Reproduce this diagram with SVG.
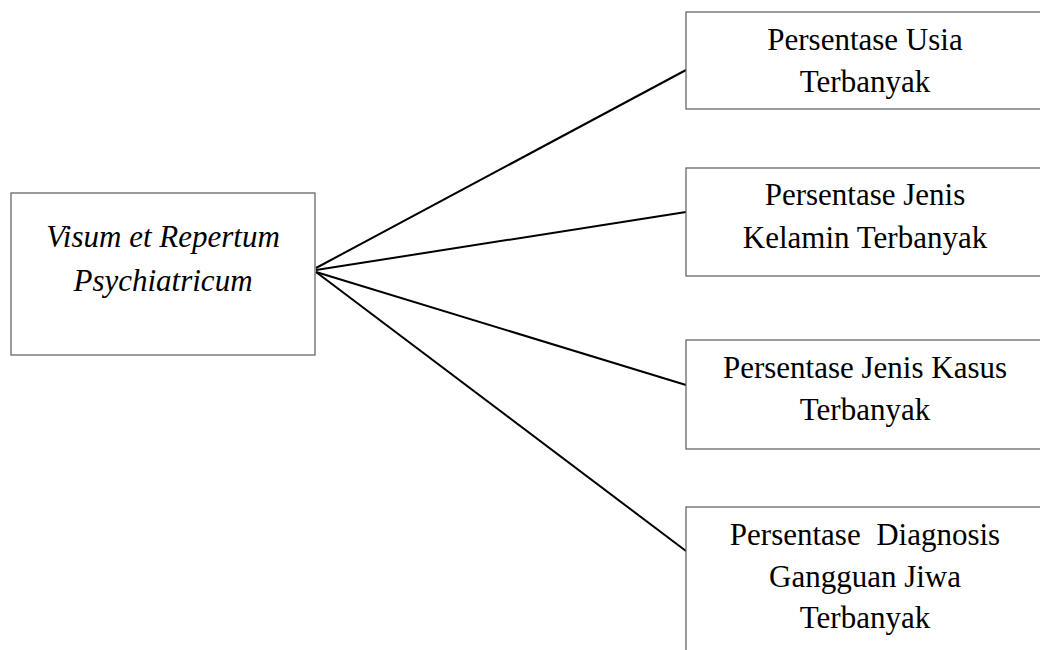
<svg xmlns="http://www.w3.org/2000/svg" width="1040" height="650" viewBox="0 0 1040 650">
<style>
.box{fill:#fff;stroke:#5a5a5a;stroke-width:1.2}
.t{font-family:"Liberation Serif","Times New Roman",serif;font-size:31px;fill:#000;text-anchor:middle}
.it{font-style:italic}
.c{stroke:#000;stroke-width:2;fill:none}
</style>
<rect width="1040" height="650" fill="#fff"/>
<g id="connectors">
<line class="c" x1="316" y1="268" x2="686" y2="70"/>
<line class="c" x1="316" y1="270" x2="686" y2="212"/>
<line class="c" x1="316" y1="272" x2="686" y2="385"/>
<line class="c" x1="316" y1="272" x2="686" y2="551"/>
</g>
<g id="vrp">
<rect class="box" x="11" y="193" width="304" height="162"/>
<text class="t it" x="163" y="247">Visum et Repertum</text>
<text class="t it" x="163" y="291">Psychiatricum</text>
</g>
<g id="usia">
<rect class="box" x="686" y="12" width="360" height="97"/>
<text class="t" x="865" y="50">Persentase Usia</text>
<text class="t" x="865" y="92">Terbanyak</text>
</g>
<g id="kelamin">
<rect class="box" x="686" y="168" width="360" height="108"/>
<text class="t" x="865" y="205">Persentase Jenis</text>
<text class="t" x="865" y="248">Kelamin Terbanyak</text>
</g>
<g id="kasus">
<rect class="box" x="686" y="340" width="360" height="109"/>
<text class="t" x="865" y="378">Persentase Jenis Kasus</text>
<text class="t" x="865" y="420">Terbanyak</text>
</g>
<g id="diagnosis">
<rect class="box" x="686" y="507" width="360" height="160"/>
<text class="t" x="865" y="545" xml:space="preserve">Persentase  Diagnosis</text>
<text class="t" x="865" y="587">Gangguan Jiwa</text>
<text class="t" x="865" y="628">Terbanyak</text>
</g>
</svg>
